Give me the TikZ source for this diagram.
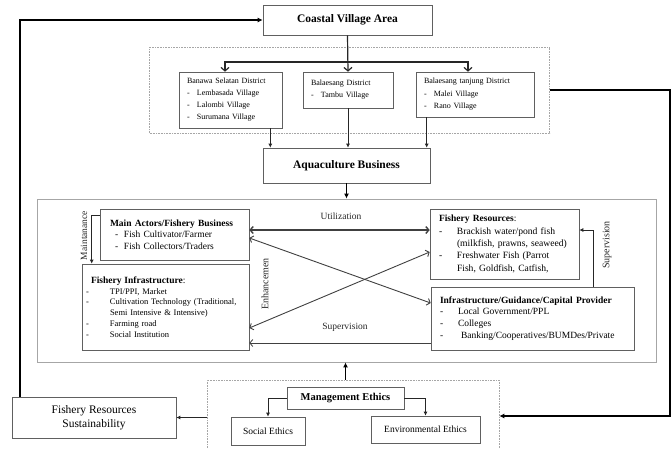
\documentclass[tikz,border=0pt]{standalone}
\usepackage{fontspec}
\setmainfont{Liberation Serif}
\usetikzlibrary{arrows.meta}

\newcommand{\dashitem}[2][10pt]{\makebox[#1][l]{-}\mbox{#2}}

\tikzset{
  box/.style={draw=gray!75!black, fill=white, line width=0.6pt, align=left, inner ysep=2pt},
  dotbox/.style={draw=gray!70, densely dotted, line width=0.6pt},
  heavy/.style={line width=1.6pt, black, -{Latex[length=5pt,width=5pt]}},
  feed/.style={line width=0.9pt, black!85, -{Latex[length=4pt,width=4pt]}},
  spread/.style={line width=1.2pt, black!85, -{Straight Barb[length=3.5pt,width=8pt]}},
  link/.style={line width=0.9pt, black!75, {Straight Barb[length=3pt,width=7pt]}-{Straight Barb[length=3pt,width=7pt]}},
  oneway/.style={line width=0.8pt, black!75, -{Straight Barb[length=3pt,width=7pt]}},
  lbl/.style={font=\fontsize{9.5}{11}\selectfont, text=black!85},
}

\begin{document}
\begin{tikzpicture}[x=1pt,y=-1pt]
\useasboundingbox (0,0) rectangle (671,448);

% frames behind the boxes
\node[dotbox, minimum width=400pt, minimum height=86pt] (region) at (349.5,90) {};
\node[draw=gray!70, line width=0.8pt, minimum width=619pt, minimum height=163pt] (frame) at (346.5,280.5) {};
\node[dotbox, minimum width=292pt, minimum height=72pt] (ethicsarea) at (353,416) {};

% top part
\node[box, align=center, minimum width=169pt, minimum height=30pt, font=\fontsize{11.5}{13}\selectfont\bfseries] (coastal) at (347.5,20) {Coastal Village Area};

\node[box, minimum height=56pt, text width=87pt, inner xsep=8pt, font=\fontsize{8}{12}\selectfont] (banawa) at (230.5,100)
  {Banawa Selatan District\\ \dashitem{Lembasada Village}\\ \dashitem{Lalombi Village}\\ \dashitem{Surumana Village}};
\node[box, minimum height=36pt, text width=74pt, inner xsep=8pt, font=\fontsize{8}{12}\selectfont] (balaesang) at (348,90)
  {Balaesang District\\ \dashitem{Tambu Village}};
\node[box, minimum height=45pt, text width=102pt, inner xsep=8pt, font=\fontsize{8}{12.5}\selectfont] (tanjung) at (475,94.5)
  {Balaesang tanjung District\\ \dashitem{Malei Village}\\ \dashitem{Rano Village}};

\node[box, align=center, minimum width=167pt, minimum height=35pt, font=\fontsize{11.5}{13}\selectfont\bfseries] (aqua) at (346.5,165.5) {Aquaculture Business};

% inside the frame
\node[box, minimum height=51pt, text width=129pt, inner xsep=10pt, font=\fontsize{9.5}{11.3}\selectfont] (actors) at (174.5,234.5)
  {\textbf{Main Actors/Fishery Business}\\ \hspace*{5pt}\dashitem[9pt]{Fish Cultivator/Farmer}\\ \hspace*{5pt}\dashitem[9pt]{Fish Collectors/Traders}};
\node[box, minimum height=86pt, text width=159pt, inner xsep=4pt, font=\fontsize{8.5}{10.8}\selectfont] (infra) at (165.5,307)
  {\hspace*{5pt}{\fontsize{9.5}{11}\selectfont\textbf{Fishery Infrastructure}:}\\
   \dashitem[24pt]{TPI/PPI, Market}\\
   \dashitem[24pt]{Cultivation Technology (Traditional,}\\
   \hspace*{24pt}Semi Intensive \& Intensive)\\
   \dashitem[24pt]{Farming road}\\
   \dashitem[24pt]{Social Institution}};
\node[box, minimum height=70pt, text width=131pt, inner xsep=9pt, font=\fontsize{9.6}{12.3}\selectfont] (resources) at (504.5,244)
  {{\fontsize{9.5}{11}\selectfont\textbf{Fishery Resources}:}\\
   \dashitem[18pt]{Brackish water/pond fish}\\
   \hspace*{18pt}\mbox{(milkfish, prawns, seaweed)}\\
   \dashitem[18pt]{Freshwater Fish (Parrot}\\
   \hspace*{18pt}\mbox{Fish, Goldfish, Catfish,}};
\node[box, minimum height=63pt, text width=185pt, inner xsep=9pt, font=\fontsize{9.5}{11.8}\selectfont] (provider) at (532.5,318.5)
  {\textbf{Infrastructure/Guidance/Capital Provider}\\
   \dashitem[18pt]{Local Government/PPL}\\
   \dashitem[18pt]{Colleges}\\
   \dashitem[21pt]{Banking/Cooperatives/BUMDes/Private}};

% bottom part
\node[box, align=center, minimum width=117pt, minimum height=22pt, font=\fontsize{10.5}{12}\selectfont\bfseries] (mgmt) at (345.5,398) {Management Ethics};
\node[box, align=center, minimum width=74pt, minimum height=28pt, font=\fontsize{9.5}{11}\selectfont] (social) at (268,431) {Social Ethics};
\node[box, align=center, minimum width=109pt, minimum height=27pt, font=\fontsize{9.5}{11}\selectfont] (env) at (425.5,429.5) {Environmental Ethics};
\node[box, align=center, minimum width=164pt, minimum height=41pt, font=\fontsize{11.5}{14}\selectfont] (sustain) at (94,417.5) {Fishery Resources\\Sustainability};

% top connectors
\draw[spread] (coastal.south) -- (balaesang.north);
\coordinate (split) at (coastal.south |- 0,62);
\draw[spread] (split) -| ([xshift=-5.5pt]banawa.north);
\draw[spread] (split) -| ([xshift=-7pt]tanjung.north);

\coordinate (bw) at ([xshift=-12pt]banawa.south east);
\coordinate (tj) at ([xshift=11pt]tanjung.south west);
\draw[feed] (bw) -- (bw |- aqua.north);
\draw[feed] (balaesang.south) -- (balaesang.south |- aqua.north);
\draw[feed] (tj) -- (tj |- aqua.north);
\draw[heavy] (aqua.south) -- (frame.north);

% outer loop
\draw[heavy] ([xshift=8pt]sustain.north west) |- (coastal.west);
\draw[heavy] (region.east) -- ++(120,0) |- (ethicsarea.east);
\draw[feed, line width=1.2pt] (ethicsarea.west |- sustain.east) -- (sustain.east);
\draw[heavy] (mgmt.north |- ethicsarea.north) -- (mgmt.north |- frame.south);
\draw[feed] (mgmt.west) -| (social.north);
\draw[feed] (mgmt.east) -| (env.north);

% links inside the frame
\coordinate (mt) at ([yshift=-7pt]actors.north west);
\draw[feed] (mt) -- ++(-8,0) coordinate (mc) -- (mc |- infra.north);
\node[lbl, rotate=90] (maintlbl) at (84,235.5) {Maintanance};

\coordinate (ut) at ([yshift=4.5pt]actors.east);
\draw[link, line width=1.4pt] (ut) -- (ut -| resources.west);
\node[lbl] (utillbl) at (341,216) {Utilization};

\draw[link] ([yshift=-3.5pt]actors.east) -- ([yshift=15.5pt]provider.west);
\draw[link] ([yshift=-21pt]infra.east) -- ([yshift=-8pt]resources.west);
\node[lbl, font=\fontsize{10}{11}\selectfont, rotate=90] (enhlbl) at (265,284) {Enhancemen};

\coordinate (sv) at ([yshift=-24.5pt]provider.west);
\draw[oneway] (sv) -- (sv -| infra.east);
\node[lbl] (suplbl) at (345,327) {Supervision};

\coordinate (sr) at ([xshift=60.5pt]provider.north);
\coordinate (re) at ([yshift=14pt]resources.east);
\draw[feed] (sr) |- (re);
\node[lbl, font=\fontsize{10}{11}\selectfont, rotate=90] (suprlbl) at (607,245) {Supervision};
\end{tikzpicture}
\end{document}
